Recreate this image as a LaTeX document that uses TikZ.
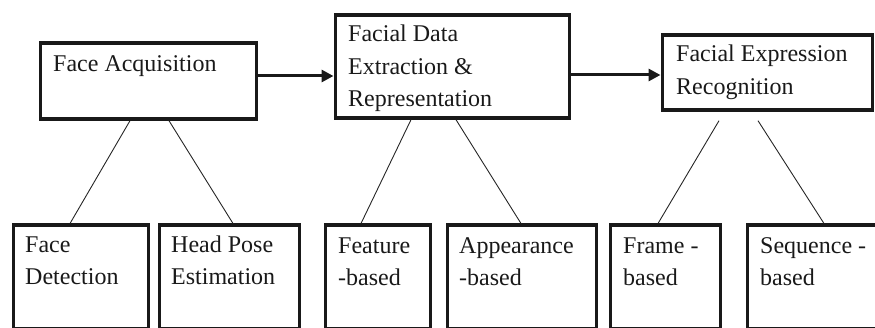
\documentclass[tikz,border=0pt]{standalone}
\usepackage{fontspec}
\setmainfont{Liberation Serif}
\usetikzlibrary{arrows.meta,calc}
\begin{document}
\begin{tikzpicture}[x=1pt,y=-1pt,
  boxstyle/.style={draw=black!90, line width=3.2pt, inner sep=0pt, anchor=north west},
  txt/.style={inner sep=0pt, anchor=base west, align=left, font=\fontsize{24}{32.5}\selectfont, text=black!90},
  flow/.style={line width=3pt, draw=black!90, -{Triangle[length=12pt,width=12pt]}},
  branch/.style={line width=0.9pt, draw=black!85}]
\useasboundingbox (0,0) rectangle (875,328);
% top boxes
\node[boxstyle, minimum width=216pt, minimum height=76pt] (b1) at (38.5,41.5) {};
\node[boxstyle, minimum width=234pt, minimum height=103pt] (b2) at (333.5,13.5) {};
\node[boxstyle, minimum width=210pt, minimum height=75pt] (b3) at (660.5,33.5) {};
\node[txt] (t1) at (53,72) {Face Acquisition};
\node[txt] (t2) at (348,107) {Facial Data\\Extraction \&\\Representation};
\node[txt] (t3) at (676,94.5) {Facial Expression\\Recognition};
% bottom boxes
\node[boxstyle, minimum width=135pt, minimum height=104pt] (d1) at (11.5,223.5) {};
\node[boxstyle, minimum width=140pt, minimum height=104pt] (d2) at (157.5,223.5) {};
\node[boxstyle, minimum width=105pt, minimum height=104pt] (d3) at (323.5,223.5) {};
\node[boxstyle, minimum width=149pt, minimum height=104pt] (d4) at (445.5,223.5) {};
\node[boxstyle, minimum width=110pt, minimum height=104pt] (d5) at (608.5,223.5) {};
\node[boxstyle, minimum width=135pt, minimum height=104pt] (d6) at (745.5,223.5) {};
\node[txt] (s1) at (25,285) {Face\\Detection};
\node[txt] (s2) at (171,285) {Head Pose\\Estimation};
\node[txt] (s3) at (338,286) {Feature\\-based};
\node[txt] (s4) at (459,286) {Appearance\\-based};
\node[txt] (s5) at (623,286) {Frame -\\based};
\node[txt] (s6) at (760,286) {Sequence -\\based};
% flow arrows
\draw[flow] (b1.east |- 0,76) -- (b2.west |- 0,76);
\draw[flow] (b2.east |- 0,75) -- (b3.west |- 0,75);
% branches
\draw[branch] (b1.south -| 130,0) -- (d1.north -| 70,0);
\draw[branch] (b1.south -| 169,0) -- (d2.north -| 233,0);
\draw[branch] (b2.south -| 411,0) -- (d3.north -| 361,0);
\draw[branch] (b2.south -| 456,0) -- (d4.north -| 521,0);
\draw[branch] ([yshift=-9pt]b3.south -| 719,0) -- (d5.north -| 658,0);
\draw[branch] ([yshift=-9pt]b3.south -| 758,0) -- (d6.north -| 824,0);
\end{tikzpicture}
\end{document}
